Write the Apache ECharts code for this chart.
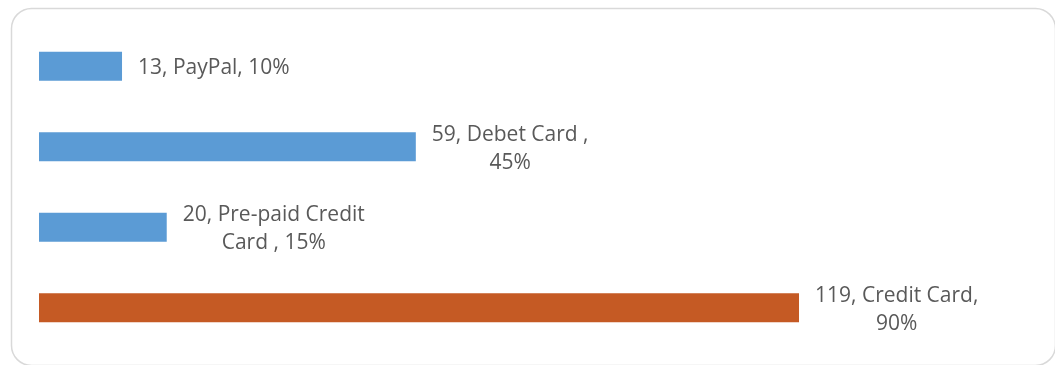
<!DOCTYPE html>
<html>
<head>
<meta charset="utf-8">
<script src="https://cdn.jsdelivr.net/npm/echarts@6/dist/echarts.min.js"></script>
<style>
  html, body { margin: 0; padding: 0; background: #ffffff; }
  #chart { width: 1055px; height: 365px; }
</style>
</head>
<body>
<div id="chart"></div>
<script>
// Payment methods used, with counts and share of respondents
const categories = ['PayPal', 'Debet Card ', 'Pre-paid Credit Card ', 'Credit Card'];
const counts = [13, 59, 20, 119];
const percents = [10, 45, 15, 90];
const barColors = ['#5b9bd5', '#5b9bd5', '#5b9bd5', '#c55a24'];

// Wrap a label into lines of at most maxChars characters, breaking on spaces
function wrapWords(text, maxChars) {
  const words = text.split(' ');
  const lines = [];
  let line = '';
  words.forEach(w => {
    const next = line ? line + ' ' + w : w;
    if (next.length > maxChars && line) {
      lines.push(line);
      line = w;
    } else {
      line = next;
    }
  });
  if (line) lines.push(line);
  return lines;
}

const chart = echarts.init(document.getElementById('chart'));

chart.setOption({
  animation: false,
  backgroundColor: '#ffffff',
  graphic: [{
    type: 'rect',
    left: 9,
    top: 6,
    shape: { width: 1044, height: 357, r: 20 },
    style: { fill: 'none', stroke: '#d9d9d9', lineWidth: 1.5 },
    silent: true,
    z: -1
  }],
  grid: { left: 39, top: 26, width: 958, height: 322 },
  xAxis: {
    type: 'value', min: 0, max: 150, show: false
  },
  yAxis: {
    type: 'category', data: categories, inverse: true, show: false
  },
  series: [{
    type: 'bar',
    barWidth: 29,
    data: counts.map((v, i) => ({ value: v, itemStyle: { color: barColors[i] } })),
    label: {
      show: true,
      position: 'right',
      distance: 16,
      offset: [0, 2],
      formatter: p => {
        const text = counts[p.dataIndex] + ', ' + categories[p.dataIndex] + ', ' + percents[p.dataIndex] + '%';
        return wrapWords(text, 19).map(l => '{t|' + l + '}').join('\n');
      },
      rich: {
        t: {
          align: 'center',
          fontFamily: 'Open Sans',
          fontSize: 21,
          lineHeight: 28,
          color: '#595959'
        }
      }
    }
  }]
});
</script>
</body>
</html>
